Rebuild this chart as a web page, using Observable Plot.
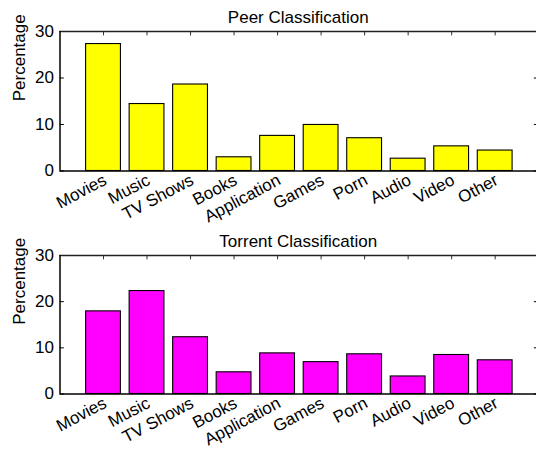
<!DOCTYPE html>
<html><head><meta charset="utf-8">
<script src="https://cdn.jsdelivr.net/npm/d3@7"></script>
<script src="https://cdn.jsdelivr.net/npm/@observablehq/plot@0.6"></script>
<style>body{margin:0;background:#fff} svg{display:block}</style>
</head><body><div id="c"></div>
<script>
const categories = ["Movies","Music","TV Shows","Books","Application","Games","Porn","Audio","Video","Other"];
const peerValues = [27.3,14.4,18.6,2.95,7.55,9.9,7.05,2.65,5.3,4.4];
const torrentValues = [17.9,22.3,12.3,4.7,8.8,6.9,8.6,3.8,8.45,7.3];
const yTicks = [0,10,20,30];
const xDomain = [0,11];
const titles = ["Peer Classification","Torrent Classification"];
const colors = ["#ffff00","#ff00ff"];
const yLabel = "Percentage";

const font = "'Liberation Sans', Arial, Helvetica, sans-serif";

function panel(title, values, color, h, yTop, yBottom) {
  const data = categories.map((c,i)=>({pos:i+1, cat:c, v:values[i]}));
  const positions = data.map(d=>d.pos);
  return Plot.plot({
    width:536, height:h,
    marginLeft:59.5, marginRight:0, marginTop:yTop, marginBottom:h-yBottom,
    style:{fontFamily:font, fontSize:"17px", color:"#000", background:"#fff", overflow:"hidden"},
    x:{domain:xDomain, range:[59.5,538.2], axis:null},
    y:{domain:[0,30], range:[yBottom,yTop], axis:null},
    marks:[
      Plot.ruleX(positions,{y1:0, y2:0.95, stroke:"#000", strokeWidth:1}),
      Plot.rectY(data,{x1:d=>d.pos-0.4, x2:d=>d.pos+0.4, y1:0, y2:"v", fill:color, stroke:"#000", strokeWidth:1.1}),
      Plot.ruleX(positions,{y1:30, y2:29.05, stroke:"#333", strokeWidth:1}),
      Plot.ruleY(yTicks,{x1:0, x2:0.1, stroke:"#000", strokeWidth:1}),
      Plot.ruleY(yTicks,{x1:10.9, x2:11, stroke:"#000", strokeWidth:1}),
      Plot.ruleY([0],{stroke:"#000", strokeWidth:1.5}),
      Plot.ruleY([30],{stroke:"#222", strokeWidth:1.4}),
      Plot.ruleX([0],{stroke:"#000", strokeWidth:1.5}),
      Plot.text(yTicks,{x:0, y:d=>d, text:d=>String(d), textAnchor:"end", dx:-6, fontSize:17}),
      Plot.text(data,{x:"pos", y:0, text:"cat", rotate:-28, textAnchor:"end", lineAnchor:"top", dx:-1.5, dy:2, fontSize:17}),
      Plot.text([yLabel],{frameAnchor:"left", dx:-35, rotate:-90, lineAnchor:"bottom", fontSize:17}),
      Plot.text([title],{frameAnchor:"top", dy:-8.3, lineAnchor:"bottom", fontSize:17})
    ]
  });
}
const c = document.getElementById("c");
c.appendChild(panel(titles[0], peerValues, colors[0], 225, 31, 170.5));
c.appendChild(panel(titles[1], torrentValues, colors[1], 224, 30, 168.5));
</script></body></html>
